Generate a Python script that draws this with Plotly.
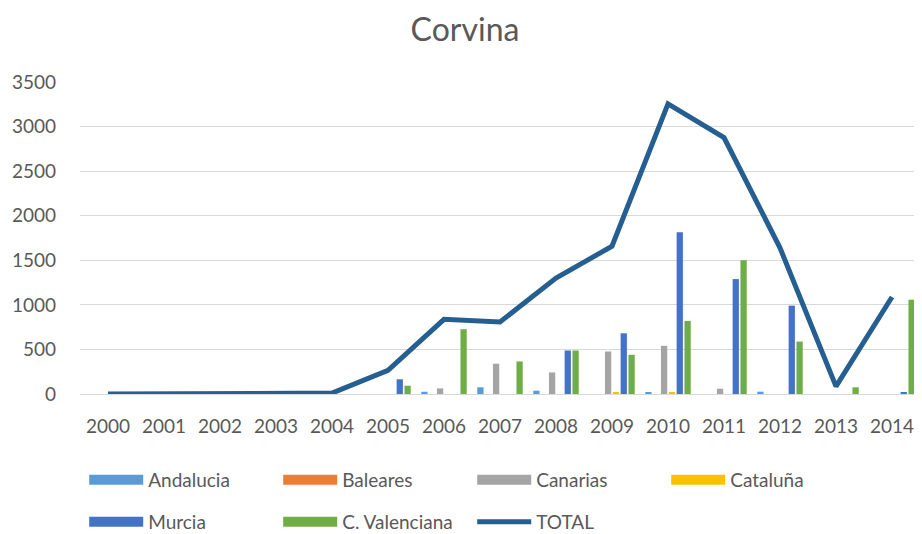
import plotly.graph_objects as go

# --- DATA ---
years = [str(y) for y in range(2000, 2015)]

andalucia = [0, 0, 0, 0, 0, 0, 25, 75, 37, 0, 14, 0, 26, 0, 0]
baleares = [0, 0, 0, 0, 0, 0, 0, 0, 0, 0, 0, 0, 0, 0, 0]
canarias = [0, 0, 0, 0, 0, 0, 63, 340, 242, 477, 540, 59, 0, 0, 0]
cataluna = [0, 0, 0, 0, 0, 0, 0, 0, 0, 22, 14, 0, 0, 0, 0]
murcia = [0, 0, 0, 0, 0, 165, 0, 0, 488, 681, 1815, 1289, 991, 0, 14]
valenciana = [0, 0, 0, 0, 0, 93, 727, 365, 488, 440, 820, 1501, 588, 75, 1058]
total = [0, 0, 2, 10, 10, 265, 838, 808, 1300, 1658, 3255, 2877, 1640, 85, 1088]

y_ticks = [0, 500, 1000, 1500, 2000, 2500, 3000, 3500]

# --- STYLE ---
FONT = "Lato"
GREY = "#595959"
# the page body has an 8px margin, so the figure is drawn 8px smaller
W, H = 914, 526

bars = [
    ("Andalucia", andalucia, "#5B9BD5", "legend"),
    ("Baleares", baleares, "#ED7D31", "legend"),
    ("Canarias", canarias, "#A5A5A5", "legend"),
    ("Cataluña", cataluna, "#FFC000", "legend"),
    ("Murcia", murcia, "#4472C4", "legend2"),
    ("C. Valenciana", valenciana, "#70AD47", "legend2"),
]

fig = go.Figure()
for name, vals, color, leg in bars:
    fig.add_trace(go.Bar(x=years, y=vals, name=name, marker_color=color,
                         marker_line_width=0, legendgroup=name, showlegend=False))
    # wide flat swatch for the legend, like the Excel one
    fig.add_trace(go.Scatter(x=[None], y=[None], name=name, mode="lines",
                             line=dict(color=color, width=13), legendgroup=name,
                             legend=leg, hoverinfo="skip"))

fig.add_trace(go.Scatter(x=years, y=total, name="TOTAL", mode="lines",
                         line=dict(color="#255E91", width=5), legend="legend2"))

leg_common = dict(orientation="h", xanchor="left", yanchor="middle",
                  yref="container", entrywidth=125, itemwidth=54,
                  font=dict(family=FONT, size=19, color=GREY),
                  bgcolor="rgba(0,0,0,0)", traceorder="normal")

fig.update_layout(
    width=W, height=H,
    margin=dict(l=72, r=2, t=74, b=140, autoexpand=False),
    paper_bgcolor="white", plot_bgcolor="white",
    title=dict(text="Corvina", x=0.5, xanchor="center", y=1 - 22 / H, yanchor="middle",
               font=dict(family=FONT, size=32, color=GREY)),
    barmode="group", bargap=0.16, bargroupgap=0.2,
    legend=dict(x=0.005, y=1 - 472 / H, **leg_common),
    legend2=dict(x=0.005, y=1 - 514 / H, **leg_common),
)

fig.update_xaxes(type="category", showgrid=False, showline=False, ticks="",
                 automargin=False, ticklabelstandoff=19,
                 tickfont=dict(family=FONT, size=19, color=GREY))
fig.update_yaxes(range=[0, 3500], tickvals=y_ticks, showgrid=True,
                 gridcolor="#D9D9D9", gridwidth=1, zeroline=True,
                 zerolinecolor="#D9D9D9", zerolinewidth=1, showline=False,
                 automargin=False, ticks="", ticklabelstandoff=23,
                 tickfont=dict(family=FONT, size=19, color=GREY))

fig.write_html("out.html")
